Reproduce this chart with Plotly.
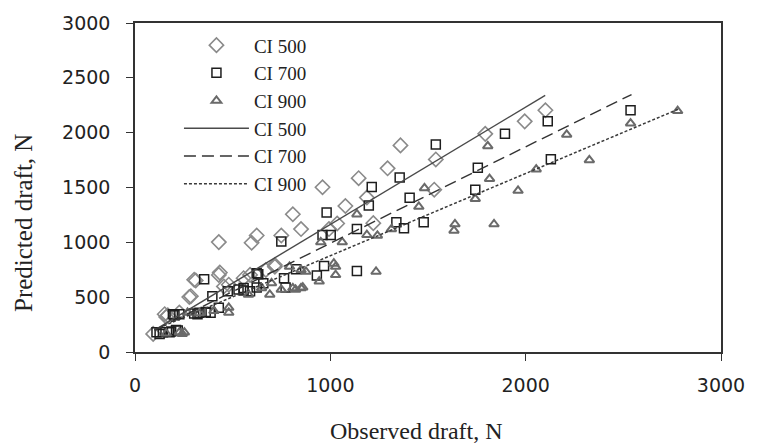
import plotly.graph_objects as go

# Observed vs predicted draft (N) for three cone index levels
ci500_obs = [93, 152, 160, 168, 227, 278, 286, 303, 311, 429, 434, 429, 455, 480, 556, 589, 597,
             623, 670, 716, 716, 749, 808, 850, 960, 993, 1035, 1077, 1145, 1187, 1220, 1293,
             1359, 1532, 1540, 1793, 1995, 2101]
ci500_pred = [165, 345, 320, 335, 360, 502, 509, 658, 652, 703, 724, 1002, 598, 614, 673, 703, 996,
              1062, 748, 778, 793, 1062, 1256, 1121, 1502, 1121, 1172, 1331, 1585, 1408, 1175, 1675,
              1884, 1480, 1756, 1989, 2103, 2204]

ci700_obs = [110, 126, 143, 177, 185, 194, 202, 210, 219, 227, 303, 320, 330, 354, 362, 387, 396,
             429, 475, 530, 556, 556, 589, 623, 623, 631, 657, 749, 763, 771, 825, 931, 960, 968,
             981, 1002, 1136, 1136, 1197, 1212, 1338, 1355, 1377, 1406, 1478, 1540, 1742, 1755,
             1894, 2113, 2129, 2537]
ci700_pred = [179, 165, 179, 179, 186, 344, 335, 201, 195, 344, 350, 344, 359, 664, 365, 359, 509,
              404, 553, 569, 560, 583, 553, 589, 718, 709, 628, 1008, 673, 589, 754, 697, 1068, 784,
              1271, 1068, 739, 1121, 1337, 1505, 1182, 1591, 1128, 1406, 1182, 1893, 1480, 1681,
              1989, 2103, 1758, 2204]

ci900_obs = [160, 227, 242, 253, 269, 330, 404, 480, 480, 581, 648, 690, 699, 749, 791, 808, 822,
             850, 850, 859, 875, 943, 951, 1018, 1027, 1027, 1061, 1136, 1187, 1234, 1241, 1313,
             1453, 1482, 1633, 1638, 1742, 1806, 1815, 1838, 1961, 2054, 2210, 2326, 2537, 2778]
ci900_pred = [170, 179, 166, 179, 359, 355, 374, 404, 359, 524, 583, 524, 628, 569, 778, 583, 569,
              583, 748, 589, 733, 643, 1002, 807, 778, 703, 1002, 1256, 1068, 733, 1062, 1121,
              1325, 1495, 1107, 1166, 1397, 1878, 1579, 1166, 1471, 1666, 1983, 1750, 2085, 2198]

# Fitted regression lines: slope, intercept and x-extent for each level
fit_labels = ["CI 500", "CI 700", "CI 900"]
fit_slope = [1.07, 0.88, 0.75]
fit_intercept = [93, 111, 128]
fit_xrange = [[100, 2100], [100, 2542], [100, 2780]]

serif = "Liberation Serif, Times New Roman, serif"
sans = "DejaVu Sans, Verdana, sans-serif"

fig = go.Figure()

fig.add_trace(go.Scatter(
    x=ci500_obs, y=ci500_pred, mode="markers", name="CI 500",
    marker=dict(symbol="diamond-open", size=11, color="#8a8a8a", line=dict(width=1.6, color="#8a8a8a"))))
fig.add_trace(go.Scatter(
    x=ci700_obs, y=ci700_pred, mode="markers", name="CI 700",
    marker=dict(symbol="square-open", size=9, color="#1e1e1e", line=dict(width=1.5, color="#1e1e1e"))))
fig.add_trace(go.Scatter(
    x=ci900_obs, y=ci900_pred, mode="markers", name="CI 900",
    marker=dict(symbol="triangle-up-open", size=8.5, color="#6a6a6a", line=dict(width=2, color="#6a6a6a"))))

line_styles = [("solid", 1.4, "#4a4a4a"), ("12px,6px", 1.4, "#333333"), ("3px,2px", 1.5, "#3a3a3a")]
for lab, m, b, xr, (d, w, c) in zip(fit_labels, fit_slope, fit_intercept, fit_xrange, line_styles):
    fig.add_trace(go.Scatter(
        x=xr, y=[m * v + b for v in xr], mode="lines", name=lab,
        line=dict(color=c, width=w, dash=d)))

axis_common = dict(
    showline=True, linecolor="#333333", linewidth=1.5, mirror=True,
    showgrid=False, zeroline=False, ticks="outside", ticklen=7, tickwidth=1.3,
    tickcolor="#333333", tickfont=dict(family=sans, size=19, color="#222222"),
)

fig.update_xaxes(range=[0, 3000], tickvals=[0, 1000, 2000, 3000], ticklabelstandoff=8, **axis_common)
fig.update_yaxes(range=[0, 3000], tickvals=[0, 500, 1000, 1500, 2000, 2500, 3000],
                 ticklabelstandoff=12, **axis_common)

fig.add_annotation(text="Observed draft, N", xref="paper", yref="paper", x=0.48, y=-0.239,
                   xanchor="center", yanchor="middle", showarrow=False,
                   font=dict(family=serif, size=24, color="#222222"))
fig.add_annotation(text="Predicted draft, N", xref="paper", yref="paper", x=-0.19, y=0.391,
                   xanchor="center", yanchor="middle", showarrow=False, textangle=-90,
                   font=dict(family=serif, size=25, color="#222222"))

fig.update_layout(
    width=757, height=448,
    margin=dict(l=135, r=28, t=17, b=96),
    paper_bgcolor="white", plot_bgcolor="white",
    showlegend=True,
    legend=dict(x=0.075, y=0.99, xanchor="left", yanchor="top", bgcolor="rgba(0,0,0,0)",
                font=dict(family=serif, size=19, color="#222222"), itemwidth=65,
                tracegroupgap=0),
)

fig.write_html("out.html")
